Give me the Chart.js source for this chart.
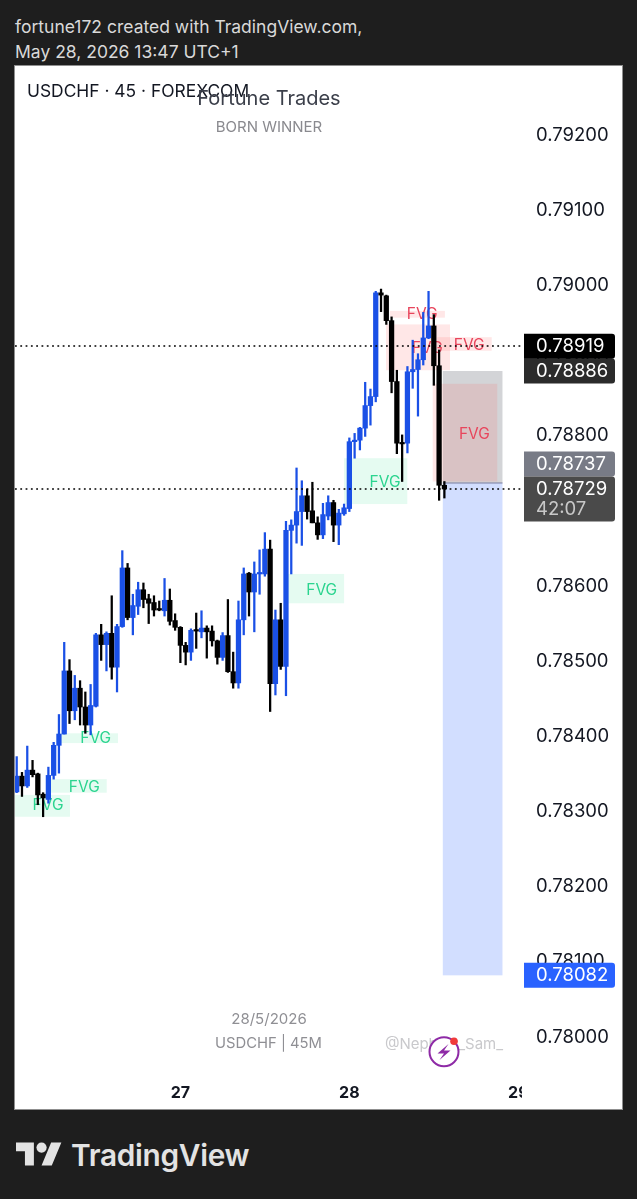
<!DOCTYPE html>
<html lang="en">
  <head>
    <meta charset="UTF-8" />
    <title>USDCHF 45</title>
    <style>
      html,
      body {
        margin: 0;
        height: 1199px;
        background: #1e1e1e;
        overflow: hidden;
        font-family: Inter, sans-serif;
      }
      #header {
        position: absolute;
        left: 15px;
        top: 15px;
        color: #d9d9d9;
        font-size: 17.5px;
        line-height: 24.5px;
      }
      #panel {
        position: absolute;
        left: 15px;
        top: 66px;
        width: 607px;
        height: 1043px;
        background: #fff;
        box-shadow: 0 0 0 1px #8f8f8f;
      }
      #badge {
        position: absolute;
        left: 424px;
        top: 1030px;
      }
      #logo {
        position: absolute;
        left: 16px;
        top: 1141px;
      }
      #brand {
        position: absolute;
        left: 71px;
        top: 1137px;
        color: #e3e3e3;
        font-size: 29.8px;
        line-height: 36px;
        font-weight: 600;
        letter-spacing: -0.3px;
      }
    </style>
    <script src="https://cdn.jsdelivr.net/npm/chart.js"></script>
  </head>
  <body>
    <div id="header">
      fortune172 created with TradingView.com,<br />May 28, 2026 13:47 UTC+1
    </div>
    <div id="panel"><canvas id="graph" width="607" height="1043"></canvas></div>
    <svg id="badge" width="40" height="40" viewBox="0 0 40 40">
      <circle cx="20" cy="21.7" r="14.5" fill="#fff" stroke="#8e2aa6" stroke-width="2" />
      <path d="M24.5 14 L13.5 23.5 H20 L15.5 30 L26.5 20.5 H20 Z" fill="#8e2aa6" />
      <circle cx="30" cy="11.3" r="3.8" fill="#f03b3b" />
    </svg>
    <svg id="logo" width="46" height="29" viewBox="0 0 36 22.5">
      <path d="M14 19H7V8H0V1h14v18zM28 19h-8l7.5-18h8L28 19z" fill="#e3e3e3" />
      <circle cx="20" cy="5" r="4" fill="#e3e3e3" />
    </svg>
    <div id="brand">TradingView</div>

    <script>
      // velas de 45 min
      const opens = [
        0.78326, 0.78347, 0.78334, 0.78355, 0.7835, 0.78323, 0.78316, 0.78348, 0.78388, 0.78403,
        0.78487, 0.78434, 0.78464, 0.78439, 0.78415, 0.7844, 0.78535, 0.78522, 0.78537, 0.78492,
        0.78546, 0.78624, 0.78558, 0.78573, 0.78595, 0.78583, 0.78578, 0.7857, 0.78567, 0.78581,
        0.78554, 0.78545, 0.78521, 0.78512, 0.78542, 0.78539, 0.78544, 0.7854, 0.78527, 0.78505,
        0.78534, 0.78486, 0.78471, 0.78555, 0.78617, 0.78592, 0.78616, 0.78616, 0.78649, 0.7847,
        0.78555, 0.78493, 0.78674, 0.78681, 0.78699, 0.7872, 0.787, 0.78684, 0.78668, 0.78693,
        0.78711, 0.78681, 0.78696, 0.78703, 0.78792, 0.78794, 0.7881, 0.7884, 0.78852, 0.7899,
        0.78986, 0.78953, 0.78872, 0.78791, 0.7879, 0.78885, 0.78888, 0.78901, 0.7893, 0.78946,
        0.78893, 0.78734,
      ];
      const highs = [
        0.78373, 0.78352, 0.78387, 0.78368, 0.78351, 0.78325, 0.78359, 0.78392, 0.78429, 0.78525,
        0.78502, 0.78481, 0.78474, 0.78459, 0.78469, 0.78537, 0.78549, 0.78539, 0.78587, 0.78549,
        0.78647, 0.7863, 0.78589, 0.78605, 0.78604, 0.78589, 0.78587, 0.7858, 0.7861, 0.78596,
        0.78563, 0.78546, 0.78525, 0.78543, 0.78564, 0.78567, 0.78547, 0.78547, 0.78528, 0.78538,
        0.78582, 0.78512, 0.7858, 0.78624, 0.78618, 0.78632, 0.78648, 0.78671, 0.78661, 0.78568,
        0.78577, 0.78686, 0.78688, 0.78757, 0.7874, 0.78729, 0.78738, 0.78692, 0.7871, 0.7872,
        0.78714, 0.78702, 0.78709, 0.78797, 0.78803, 0.78811, 0.78871, 0.78862, 0.78992, 0.78995,
        0.78987, 0.78958, 0.78887, 0.78801, 0.78892, 0.78927, 0.78909, 0.78964, 0.78992, 0.78961,
        0.78914, 0.78739,
      ];
      const lows = [
        0.78325, 0.7832, 0.78332, 0.78346, 0.78309, 0.78293, 0.78311, 0.78343, 0.78351, 0.78403,
        0.78417, 0.78422, 0.78415, 0.78404, 0.78402, 0.78439, 0.78501, 0.78487, 0.78476, 0.78459,
        0.78545, 0.78555, 0.78535, 0.78562, 0.78571, 0.7855, 0.7856, 0.78567, 0.7856, 0.78548,
        0.78541, 0.78498, 0.78495, 0.78501, 0.78517, 0.78531, 0.78504, 0.7852, 0.78496, 0.78501,
        0.78485, 0.78464, 0.78464, 0.78535, 0.7856, 0.78539, 0.78589, 0.78613, 0.78433, 0.78455,
        0.78489, 0.78454, 0.78616, 0.78657, 0.78654, 0.78689, 0.78684, 0.78662, 0.78663, 0.78688,
        0.78659, 0.78655, 0.78694, 0.78699, 0.7877, 0.78781, 0.78799, 0.78814, 0.78845, 0.78965,
        0.78948, 0.78857, 0.78776, 0.78739, 0.78777, 0.78863, 0.78826, 0.78894, 0.78929, 0.78867,
        0.78714, 0.78717,
      ];
      const closes = [
        0.78347, 0.78334, 0.78355, 0.78349, 0.78322, 0.78318, 0.78348, 0.78388, 0.78403, 0.78487,
        0.78434, 0.78464, 0.78439, 0.78415, 0.78441, 0.78535, 0.78522, 0.78537, 0.78492, 0.78546,
        0.78624, 0.78558, 0.78574, 0.78595, 0.78582, 0.78577, 0.78568, 0.78568, 0.78581, 0.78553,
        0.78545, 0.78521, 0.78512, 0.78541, 0.7854, 0.78544, 0.78539, 0.78527, 0.78505, 0.78534,
        0.78486, 0.78471, 0.78555, 0.78616, 0.78592, 0.78616, 0.78618, 0.78649, 0.7847, 0.78555,
        0.78493, 0.78674, 0.78681, 0.78699, 0.7872, 0.78699, 0.78684, 0.78668, 0.78695, 0.78711,
        0.78681, 0.78697, 0.78704, 0.78792, 0.78794, 0.7881, 0.7884, 0.78852, 0.7899, 0.78987,
        0.78953, 0.78872, 0.7879, 0.78789, 0.78885, 0.78888, 0.78901, 0.7893, 0.78946, 0.78893,
        0.78734, 0.78729,
      ];

      const priceTicks = [
        0.78, 0.781, 0.782, 0.783, 0.784, 0.785, 0.786, 0.787, 0.788, 0.789, 0.79, 0.791, 0.792,
      ];
      const dayBars = [32, 64, 96];
      const dayLabels = ["27", "28", "29"];

      // zonas FVG: barra inicial/final y precio arriba/abajo
      const fvgStart = [0.68, 7.31, 8.58, 52.19, 63, 71.7, 70.94, 80.66, 79.79];
      const fvgEnd = [11.09, 18.05, 20.19, 63, 74.98, 82.1, 83.06, 90.96, 92.02];
      const fvgTop = [0.78322, 0.78343, 0.78404, 0.78616, 0.7877, 0.78966, 0.78948, 0.78931, 0.78869];
      const fvgBottom = [0.78293, 0.78325, 0.78391, 0.78577, 0.78709, 0.78957, 0.78887, 0.78913, 0.78739];
      const fvgBullish = [true, true, true, true, true, false, false, false, false];
      const fvgLabelBar = [6.93, 13.8, 15.96, 58.77, 70.76, 77.8, 78.76, 86.7, 87.67];
      const fvgLabelPrice = [0.78309, 0.78334, 0.78398, 0.78596, 0.78739, 0.78963, 0.78917, 0.78922, 0.78803];

      // posicion corta
      const shortStartBar = 81.7;
      const shortEndBar = 93;
      const stopPrice = 0.78886;
      const entryPrice = 0.78737;
      const targetPrice = 0.78082;

      const lastPrice = 0.78729;
      const crossPrice = 0.78919;
      const countdown = "42:07";

      const UP = "#1a50e6";
      const DOWN = "#000000";
      const barColors = closes.map((c, i) => (c >= opens[i] ? UP : DOWN));
      const wickData = closes.map((_, i) => ({ x: i + 1, y: [lows[i], highs[i]] }));
      const bodyData = closes.map((c, i) => ({ x: i + 1, y: [Math.min(opens[i], c), Math.max(opens[i], c)] }));

      function text(ctx, str, x, y, font, color, align) {
        ctx.font = font;
        ctx.fillStyle = color;
        ctx.textAlign = align || "center";
        ctx.textBaseline = "middle";
        ctx.fillText(str, x, y);
      }

      function box(ctx, xs, ys, start, end, top, bottom, color) {
        const x1 = xs.getPixelForValue(start);
        const x2 = xs.getPixelForValue(end);
        const y1 = ys.getPixelForValue(top);
        const y2 = ys.getPixelForValue(bottom);
        ctx.fillStyle = color;
        ctx.fillRect(x1, y1, x2 - x1, y2 - y1);
      }

      function tag(ctx, y, h, color, label) {
        ctx.fillStyle = color;
        ctx.beginPath();
        ctx.roundRect(509, y, 91, h, [0, 3, 3, 0]);
        ctx.fill();
        if (label) text(ctx, label, 521, y + 13, "18.5px Inter", "#fff", "left");
      }

      const overlays = {
        id: "overlays",
        beforeDatasetsDraw(chart) {
          const { ctx, chartArea, scales } = chart;
          const xs = scales.x;
          const ys = scales.y;
          ctx.save();
          ctx.beginPath();
          ctx.rect(chartArea.left, chartArea.top, chartArea.width, chartArea.height);
          ctx.clip();
          box(ctx, xs, ys, shortStartBar, shortEndBar, stopPrice, entryPrice, "rgba(120,123,134,0.33)");
          box(ctx, xs, ys, shortStartBar, shortEndBar, entryPrice, targetPrice, "rgba(41,98,255,0.21)");
          const ey = ys.getPixelForValue(entryPrice);
          ctx.fillStyle = "rgba(120,123,160,0.5)";
          ctx.fillRect(xs.getPixelForValue(shortStartBar), ey - 1, xs.getPixelForValue(shortEndBar) - xs.getPixelForValue(shortStartBar), 2);
          fvgStart.forEach((s, i) => {
            box(ctx, xs, ys, s, fvgEnd[i], fvgTop[i], fvgBottom[i], fvgBullish[i] ? "rgba(40,220,140,0.12)" : "rgba(255,82,82,0.14)");
          });
          fvgStart.forEach((_, i) => {
            text(ctx, "FVG", xs.getPixelForValue(fvgLabelBar[i]), ys.getPixelForValue(fvgLabelPrice[i]) + 1, "15.5px Inter", fvgBullish[i] ? "#2bd48f" : "#e8455c");
          });
          ctx.restore();
        },
        afterDatasetsDraw(chart) {
          const { ctx, chartArea, scales } = chart;
          const ys = scales.y;
          ctx.save();
          ctx.strokeStyle = "#000";
          ctx.lineWidth = 1.3;
          ctx.setLineDash([1.8, 3.5]);
          [crossPrice, lastPrice].forEach((p) => {
            const y = Math.round(ys.getPixelForValue(p));
            ctx.beginPath();
            ctx.moveTo(chartArea.left, y);
            ctx.lineTo(chartArea.right, y);
            ctx.stroke();
          });
          ctx.setLineDash([]);

          text(ctx, "USDCHF · 45 · FOREXCOM", 12, 26, "17.4px Inter", "#131722", "left");
          text(ctx, "Fortune Trades", 254, 33, "20px Inter", "#3b3f4a");
          text(ctx, "BORN WINNER", 254, 61, "15px Inter", "#8a8a8f");
          text(ctx, "28/5/2026", 254, 953, "15px Inter", "#8f8f94");
          text(ctx, "USDCHF | 45M", 253.5, 978, "14.8px Inter", "#8f8f94");
          text(ctx, "@Nephew_Sam_", 429, 978, "15px Inter", "#c9c9cc");
          ctx.restore();
        },
        afterDraw(chart) {
          const { ctx, chartArea, scales } = chart;
          const ys = scales.y;
          ctx.save();
          // el eje de precios tapa la etiqueta del dia 29
          ctx.fillStyle = "#fff";
          ctx.fillRect(chartArea.right, chartArea.bottom, 100, 34);

          const yCross = ys.getPixelForValue(crossPrice);
          const yStop = ys.getPixelForValue(stopPrice);
          const yEntry = ys.getPixelForValue(entryPrice);
          const yLast = ys.getPixelForValue(lastPrice);
          const yTarget = ys.getPixelForValue(targetPrice);

          tag(ctx, yStop - 12.5, 25, "#2b2b2b", stopPrice.toFixed(5));
          tag(ctx, yCross - 12.5, 25, "#000", crossPrice.toFixed(5));
          tag(ctx, yEntry - 31.5, 25, "#787b86", entryPrice.toFixed(5));
          tag(ctx, yLast - 12.5, 45, "#4a4a4a", lastPrice.toFixed(5));
          text(ctx, countdown, 521, yLast + 20.5, "18.5px Inter", "#c8c8c8", "left");
          tag(ctx, yTarget - 12.5, 25, "#2962ff", targetPrice.toFixed(5));
          ctx.restore();
        },
      };

      new Chart(document.getElementById("graph"), {
        type: "bar",
        data: {
          datasets: [
            { data: bodyData, backgroundColor: barColors, barThickness: 4.6, grouped: false, minBarLength: 1.5, order: 1 },
            { data: wickData, backgroundColor: barColors, barThickness: 1.6, grouped: false, order: 2 },
          ],
        },
        plugins: [overlays],
        options: {
          responsive: false,
          animation: false,
          layout: { padding: 0, autoPadding: false },
          plugins: { legend: { display: false }, tooltip: { enabled: false } },
          scales: {
            x: {
              type: "linear",
              offset: false,
              min: 0.678,
              max: 96.7,
              grid: { display: false, drawTicks: false },
              border: { display: false },
              afterFit(scale) {
                scale.height = 34;
                scale.paddingLeft = 0;
                scale.paddingRight = 0;
              },
              afterBuildTicks(scale) {
                scale.ticks = dayBars.map((v) => ({ value: v }));
              },
              ticks: {
                autoSkip: false,
                maxRotation: 0,
                padding: 9,
                color: "#131722",
                font: { family: "Inter", size: 16, weight: "bold" },
                callback: (v) => dayLabels[dayBars.indexOf(v)],
              },
            },
            y: {
              position: "right",
              min: 0.779494,
              max: 0.792918,
              grid: { display: false, drawTicks: false },
              border: { display: false },
              afterFit(scale) {
                scale.width = 100;
                scale.paddingTop = 0;
                scale.paddingBottom = 0;
              },
              afterBuildTicks(scale) {
                scale.ticks = priceTicks.map((v) => ({ value: v }));
              },
              ticks: {
                autoSkip: false,
                padding: 14,
                color: "#131722",
                font: { family: "Inter", size: 18.5 },
                callback: (v) => v.toFixed(5),
              },
            },
          },
        },
      });
    </script>
  </body>
</html>
